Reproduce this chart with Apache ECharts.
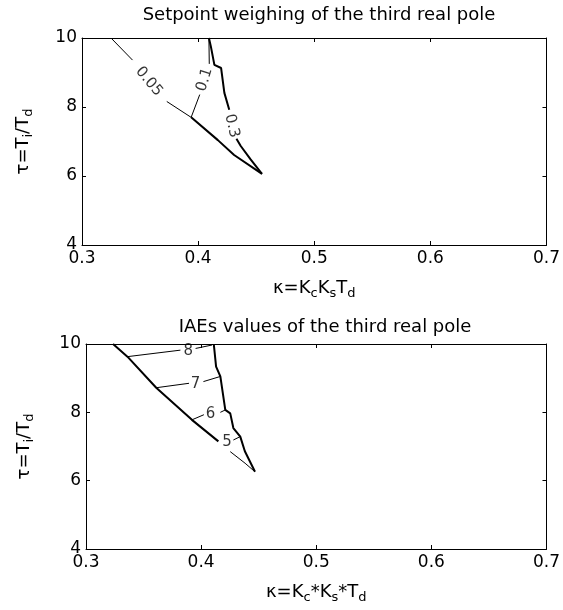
<!DOCTYPE html>
<html>
<head>
<meta charset="utf-8">
<script src="https://cdn.jsdelivr.net/npm/echarts@6/dist/echarts.min.js"></script>
<style>
  html, body { margin: 0; padding: 0; background: #fff; }
  #chart { width: 563px; height: 610px; }
</style>
</head>
<body>
<div id="chart"></div>
<script>
// Axis ranges and tick labels shared by both panels
const kappaTicks = [0.3, 0.4, 0.5, 0.6, 0.7];
const tauTicks = [4, 6, 8, 10];

// Panel 1: setpoint weighing contours, [kappa, tau] points
const sw005Upper = [[0.325, 10], [0.3435, 9.36]];
const sw005Lower = [[0.373, 8.16], [0.394, 7.70]];
const sw005Edge = [[0.394, 7.70], [0.417, 7.04], [0.431, 6.61], [0.455, 6.06]];
const sw01Upper = [[0.4093, 10], [0.4096, 9.25]];
const sw01Lower = [[0.4014, 8.36], [0.394, 7.70]];
const sw03Upper = [[0.4093, 10], [0.411, 9.75], [0.414, 9.22], [0.4198, 9.13], [0.4226, 8.41], [0.4268, 7.92]];
const sw03Lower = [[0.433, 7.08], [0.4367, 6.87], [0.4452, 6.48], [0.455, 6.06]];
// contour level labels: [kappa, tau, text, angle]
const swLabels = [
  [0.3576, 8.74, '0.05', -50],
  [0.4056, 8.79, '0.1', 73],
  [0.4290, 7.45, '0.3', -76]
];

// Panel 2: IAE contours, [kappa, tau] points
const iaeLeftEdge = [[0.3235, 10], [0.336, 9.63], [0.361, 8.72], [0.392, 7.78], [0.415, 7.15]];
const iaeLeftTail = [[0.4253, 6.85], [0.4382, 6.51], [0.4468, 6.26]];
const iaeRightEdge = [[0.411, 10], [0.413, 9.34], [0.4167, 9.05], [0.421, 8.07], [0.4253, 7.97], [0.428, 7.54], [0.434, 7.29], [0.438, 6.86], [0.4468, 6.26]];
const iae8 = [[[0.336, 9.63], [0.382, 9.82]], [[0.3952, 9.87], [0.4095, 9.97]]];
const iae7 = [[[0.361, 8.72], [0.3895, 8.85]], [[0.402, 8.90], [0.4167, 9.05]]];
const iae6 = [[[0.392, 7.78], [0.4024, 7.93]], [[0.4167, 8.00], [0.421, 8.07]]];
const iae5 = [[[0.428, 7.19], [0.434, 7.29]]];
const iaeLabels = [
  [0.3889, 9.80, '8', 0],
  [0.3952, 8.82, '7', 0],
  [0.4081, 7.95, '6', 0],
  [0.4224, 7.12, '5', 0]
];

const FONT = 'DejaVu Sans';
const chart = echarts.init(document.getElementById('chart'), null, { renderer: 'canvas' });

function line(data, grid, width) {
  return {
    type: 'line', data: data, xAxisIndex: grid * 2, yAxisIndex: grid * 2,
    showSymbol: false, symbol: 'none', silent: true, animation: false,
    lineStyle: { color: '#000', width: width }
  };
}
function labels(data, grid) {
  return {
    type: 'scatter', xAxisIndex: grid * 2, yAxisIndex: grid * 2,
    symbolSize: 0, silent: true, animation: false,
    data: data.map(d => ({
      value: [d[0], d[1]],
      label: {
        show: true, position: 'inside', formatter: d[2], rotate: d[3],
        color: '#000', fontFamily: FONT, fontSize: 15
      }
    }))
  };
}

const rich = {
  m: { fontFamily: FONT, fontSize: 18, color: '#000' },
  s: { fontFamily: FONT, fontSize: 13, color: '#000', padding: [10, 0, 0, 0] }
};

function xAxes(grid, name) {
  const base = {
    type: 'value', gridIndex: grid, min: 0.3, max: 0.7, interval: 0.1,
    axisLine: { show: true, onZero: false, lineStyle: { color: '#000', width: 1 } },
    axisTick: { show: true, inside: true, length: 4, lineStyle: { color: '#000' } },
    splitLine: { show: false }
  };
  return [
    Object.assign({}, base, {
      position: 'bottom',
      axisLabel: { color: '#000', fontFamily: FONT, fontSize: 17, margin: 5,
        formatter: v => kappaTicks.find(t => Math.abs(t - v) < 1e-9).toFixed(1) },
      name: name, nameLocation: 'middle', nameGap: 32,
      nameTextStyle: { rich: rich }
    }),
    Object.assign({}, base, { position: 'top', axisLabel: { show: false } })
  ];
}
function yAxes(grid, gap) {
  const base = {
    type: 'value', gridIndex: grid, min: 4, max: 10, interval: 2,
    axisLine: { show: true, onZero: false, lineStyle: { color: '#000', width: 1 } },
    axisTick: { show: true, inside: true, length: 4, lineStyle: { color: '#000' } },
    splitLine: { show: false }
  };
  return [
    Object.assign({}, base, {
      position: 'left',
      axisLabel: { color: '#000', fontFamily: FONT, fontSize: 17, margin: 5,
        formatter: v => String(tauTicks.find(t => Math.abs(t - v) < 1e-9)) },
      name: '{m|τ=T}{s|i}{m|/T}{s|d}', nameLocation: 'middle', nameGap: gap, nameRotate: 90,
      nameTextStyle: { rich: rich }
    }),
    Object.assign({}, base, { position: 'right', axisLabel: { show: false } })
  ];
}

const option = {
  backgroundColor: '#fff',
  animation: false,
  title: [
    { text: 'Setpoint weighing of the third real pole', left: 314, top: 1, textAlign: 'center',
      textStyle: { fontFamily: FONT, fontSize: 18, fontWeight: 'normal', color: '#000' } },
    { text: 'IAEs values of the third real pole', left: 320, top: 313, textAlign: 'center',
      textStyle: { fontFamily: FONT, fontSize: 18, fontWeight: 'normal', color: '#000' } }
  ],
  grid: [
    { left: 82, right: 9, top: 38, height: 207 },
    { left: 86, right: 12, top: 344, height: 205 }
  ],
  xAxis: xAxes(0, '{m|κ=K}{s|c}{m|K}{s|s}{m|T}{s|d}').concat(
         xAxes(1, '{m|κ=K}{s|c}{m|*K}{s|s}{m|*T}{s|d}')),
  yAxis: yAxes(0, 47).concat(yAxes(1, 50)),
  series: [
    line(sw005Upper, 0, 1),
    line(sw005Lower, 0, 1),
    line(sw005Edge, 0, 2),
    line(sw01Upper, 0, 1),
    line(sw01Lower, 0, 1),
    line(sw03Upper, 0, 2),
    line(sw03Lower, 0, 2),
    labels(swLabels, 0),
    line(iaeLeftEdge, 1, 2),
    line(iaeLeftTail, 1, 1),
    line(iaeRightEdge, 1, 2)
  ].concat(iae8.map(d => line(d, 1, 1)),
           iae7.map(d => line(d, 1, 1)),
           iae6.map(d => line(d, 1, 1)),
           iae5.map(d => line(d, 1, 1)),
           [labels(iaeLabels, 1)])
};
chart.setOption(option);
</script>
</body>
</html>
